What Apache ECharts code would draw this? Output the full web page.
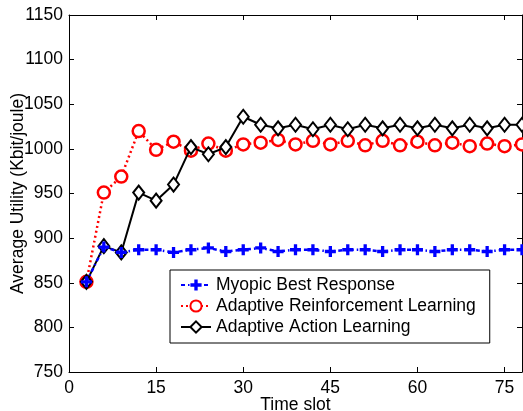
<!DOCTYPE html>
<html>
<head>
<meta charset="utf-8">
<script src="https://cdn.jsdelivr.net/npm/echarts@6/dist/echarts.min.js"></script>
<style>
  html, body { margin: 0; padding: 0; background: #fff; }
  #chart { width: 523px; height: 411px; }
</style>
</head>
<body>
<div id="chart"></div>
<script>
// time slots 3..78
const slots = [3, 6, 9, 12, 15, 18, 21, 24, 27, 30, 33, 36, 39, 42, 45, 48, 51, 54, 57, 60, 63, 66, 69, 72, 75, 78];

const myopic = [851, 890, 884, 887, 887, 884, 887, 889, 885, 887, 889, 885, 887, 887, 885, 887, 887, 885, 887, 887, 885, 887, 887, 885, 887, 887];
const reinforcement = [851, 951, 969, 1020, 999, 1008, 998, 1006, 998, 1005, 1007, 1010, 1005, 1009, 1005, 1009, 1004, 1009, 1004, 1008, 1004, 1007, 1003, 1006, 1003, 1005];
const action = [851, 891, 884, 951, 942, 960, 1002, 994, 1002, 1036, 1027, 1023, 1027, 1022, 1027, 1022, 1027, 1023, 1027, 1023, 1027, 1023, 1027, 1023, 1027, 1027];

const names = ["Myopic Best Response", "Adaptive Reinforcement Learning", "Adaptive Action Learning"];
const xTicks = [0, 15, 30, 45, 60, 75];

const font = "Liberation Sans, Arial, sans-serif";
const fs = 17.5;
const pair = (ys) => slots.map((x, i) => [x, ys[i]]);
const plus = "path://M3.5,0 H6.5 V3.5 H10 V6.5 H6.5 V10 H3.5 V6.5 H0 V3.5 H3.5 Z";

const chart = echarts.init(document.getElementById("chart"), null, { renderer: "canvas" });

const axisBase = {
  axisLine: { show: true, onZero: false, lineStyle: { color: "#000", width: 1 } },
  axisTick: { show: true, inside: true, length: 5, lineStyle: { color: "#000" } },
  splitLine: { show: false },
};

chart.setOption({
  animation: false,
  backgroundColor: "#fff",
  grid: { left: 69, right: 1, top: 15, bottom: 39, containLabel: false, outerBoundsMode: "none" },
  legend: {
    orient: "vertical",
    left: 170,
    top: 270,
    data: names,
    itemWidth: 30,
    itemHeight: 14,
    itemGap: 3,
    padding: [6, 14, 7, 10],
    backgroundColor: "#fff",
    borderColor: "#000",
    borderWidth: 1,
    borderRadius: 0,
    textStyle: { fontFamily: font, fontSize: fs, color: "#000", lineHeight: 18 },
  },
  xAxis: [
    {
      ...axisBase,
      type: "value",
      min: 0,
      max: 78,
      interval: 15,
      name: "Time slot",
      nameLocation: "middle",
      nameGap: 24,
      nameMoveOverlap: false,
      nameTextStyle: { fontFamily: font, fontSize: fs, color: "#000" },
      axisLabel: {
        fontFamily: font, fontSize: fs, color: "#000", margin: 7,
        showMaxLabel: false,
        formatter: (v) => (xTicks.includes(v) ? String(v) : ""),
      },
    },
    {
      ...axisBase,
      type: "value",
      position: "top",
      min: 0,
      max: 78,
      interval: 15,
      axisLabel: { show: false },
    },
  ],
  yAxis: [
    {
      ...axisBase,
      type: "value",
      min: 750,
      max: 1150,
      interval: 50,
      name: "Average Utility (Kbit/joule)",
      nameLocation: "middle",
      nameGap: 42,
      nameMoveOverlap: false,
      nameTextStyle: { fontFamily: font, fontSize: fs, color: "#000" },
      axisLabel: { fontFamily: font, fontSize: fs, color: "#000", margin: 6, formatter: (v) => String(v) },
    },
    {
      ...axisBase,
      type: "value",
      position: "right",
      min: 750,
      max: 1150,
      interval: 50,
      axisLabel: { show: false },
    },
  ],
  series: [
    {
      name: names[0],
      type: "line",
      data: pair(myopic),
      z: 5,
      symbol: plus,
      symbolSize: 11,
      showAllSymbol: true,
      color: "#0000ff",
      itemStyle: { color: "#0000ff", borderWidth: 0 },
      lineStyle: { color: "#0000ff", width: 2.5, type: [4, 3, 1.5, 3] },
    },
    {
      name: names[1],
      type: "line",
      data: pair(reinforcement),
      z: 3,
      symbol: "circle",
      symbolSize: 12,
      showAllSymbol: true,
      color: "#ff0000",
      itemStyle: { color: "#fff", borderColor: "#ff0000", borderWidth: 2.5 },
      lineStyle: { color: "#ff0000", width: 2.5, type: [2, 3] },
    },
    {
      name: names[2],
      type: "line",
      data: pair(action),
      z: 4,
      symbol: "diamond",
      symbolSize: [11, 14],
      showAllSymbol: true,
      color: "#000",
      itemStyle: { color: "#fff", borderColor: "#000", borderWidth: 2 },
      lineStyle: { color: "#000", width: 2 },
    },
  ],
});
</script>
</body>
</html>
